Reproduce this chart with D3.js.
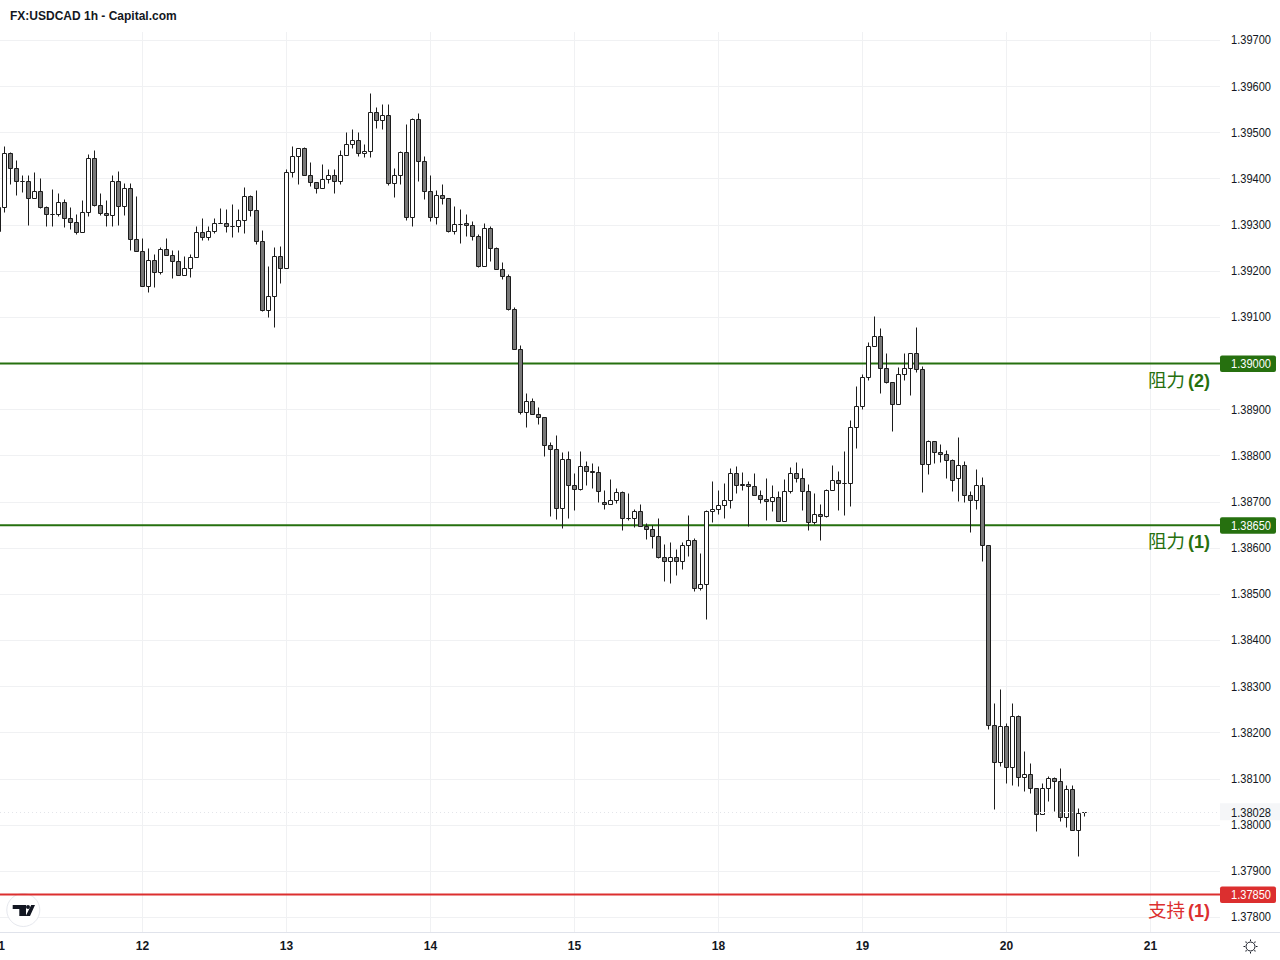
<!DOCTYPE html>
<html>
<head>
<meta charset="utf-8">
<script src="https://cdn.jsdelivr.net/npm/d3@7"></script>
<style>
  body { margin: 0; background: #fff; }
  text { font-family: "Liberation Sans", Arial, sans-serif; }
</style>
</head>
<body>
<div id="chart"></div>
<script>
// hourly candles
var opens = [
  1.39286,1.39338,1.39455,1.39423,1.39395,1.39395,1.39358,1.39373,1.39338,1.39323,
  1.39323,1.39349,1.39314,1.39306,1.39284,1.39327,1.39444,1.39343,1.39325,1.39321,
  1.39395,1.39340,1.39379,1.39269,1.39243,1.39167,1.39223,1.39197,1.39247,1.39234,
  1.39221,1.39191,1.39206,1.39230,1.39284,1.39273,1.39286,1.39303,1.39303,1.39297,
  1.39297,1.39310,1.39362,1.39331,1.39264,1.39114,1.39145,1.39232,1.39206,1.39414,
  1.39448,1.39466,1.39407,1.39392,1.39379,1.39399,1.39407,1.39394,1.39451,1.39474,
  1.39483,1.39455,1.39459,1.39544,1.39526,1.39537,1.39390,1.39407,1.39457,1.39317,
  1.39529,1.39438,1.39373,1.39317,1.39364,1.39358,1.39286,1.39302,1.39304,1.39299,
  1.39275,1.39210,1.39293,1.39249,1.39204,1.39189,1.39117,1.39031,1.38894,1.38918,
  1.38890,1.38883,1.38823,1.38814,1.38686,1.38792,1.38736,1.38727,1.38777,1.38766,
  1.38764,1.38699,1.38695,1.38703,1.38721,1.38664,1.38664,1.38679,1.38647,1.38640,
  1.38625,1.38580,1.38571,1.38580,1.38571,1.38606,1.38617,1.38513,1.38521,1.38679,
  1.38684,1.38693,1.38704,1.38762,1.38738,1.38738,1.38734,1.38714,1.38706,1.38701,
  1.38710,1.38658,1.38723,1.38762,1.38751,1.38723,1.38656,1.38673,1.38669,1.38725,
  1.38747,1.38740,1.38740,1.38862,1.38907,1.38970,1.39037,1.39059,1.38990,1.38959,
  1.38912,1.38977,1.38990,1.39022,1.38987,1.38782,1.38831,1.38808,1.38803,1.38790,
  1.38751,1.38779,1.38714,1.38704,1.38736,1.38606,1.38216,1.38135,1.38213,1.38125,
  1.38235,1.38103,1.38109,1.38079,1.38023,1.38079,1.38101,1.38094,1.38016,1.38077,
  1.37988,1.38028
];
var highs = [
  1.39350,1.39471,1.39458,1.39441,1.39408,1.39408,1.39413,1.39400,1.39340,1.39378,
  1.39369,1.39356,1.39338,1.39324,1.39354,1.39452,1.39462,1.39369,1.39354,1.39408,
  1.39417,1.39391,1.39391,1.39363,1.39270,1.39250,1.39237,1.39252,1.39270,1.39244,
  1.39246,1.39233,1.39237,1.39296,1.39314,1.39297,1.39314,1.39336,1.39334,1.39344,
  1.39334,1.39381,1.39364,1.39375,1.39288,1.39210,1.39251,1.39253,1.39420,1.39470,
  1.39466,1.39469,1.39435,1.39392,1.39431,1.39420,1.39420,1.39461,1.39500,1.39507,
  1.39500,1.39474,1.39585,1.39555,1.39561,1.39561,1.39422,1.39460,1.39517,1.39531,
  1.39542,1.39449,1.39408,1.39375,1.39388,1.39358,1.39340,1.39334,1.39323,1.39308,
  1.39280,1.39304,1.39297,1.39252,1.39219,1.39193,1.39122,1.39039,1.38935,1.38925,
  1.38905,1.38883,1.38830,1.38845,1.38807,1.38809,1.38762,1.38809,1.38788,1.38783,
  1.38777,1.38725,1.38749,1.38729,1.38723,1.38718,1.38684,1.38695,1.38653,1.38649,
  1.38664,1.38608,1.38612,1.38597,1.38612,1.38671,1.38621,1.38588,1.38682,1.38744,
  1.38725,1.38741,1.38773,1.38778,1.38764,1.38745,1.38762,1.38725,1.38751,1.38736,
  1.38723,1.38749,1.38775,1.38786,1.38773,1.38738,1.38719,1.38695,1.38727,1.38779,
  1.38766,1.38810,1.38877,1.38951,1.38977,1.39046,1.39103,1.39076,1.39022,1.38959,
  1.38992,1.39022,1.39022,1.39078,1.38994,1.38834,1.38831,1.38825,1.38812,1.38792,
  1.38840,1.38788,1.38723,1.38771,1.38753,1.38606,1.38263,1.38294,1.38220,1.38263,
  1.38237,1.38160,1.38133,1.38079,1.38090,1.38105,1.38103,1.38122,1.38086,1.38086,
  1.38036,1.38028
];
var lows = [
  1.39286,1.39327,1.39387,1.39364,1.39371,1.39300,1.39358,1.39335,1.39296,1.39296,
  1.39318,1.39294,1.39291,1.39279,1.39284,1.39318,1.39340,1.39320,1.39298,1.39296,
  1.39300,1.39320,1.39246,1.39243,1.39167,1.39153,1.39164,1.39192,1.39234,1.39184,
  1.39191,1.39191,1.39186,1.39230,1.39266,1.39266,1.39282,1.39303,1.39283,1.39274,
  1.39283,1.39281,1.39318,1.39258,1.39112,1.39099,1.39079,1.39173,1.39206,1.39403,
  1.39389,1.39407,1.39383,1.39368,1.39379,1.39391,1.39368,1.39387,1.39451,1.39466,
  1.39448,1.39446,1.39446,1.39510,1.39508,1.39385,1.39359,1.39387,1.39310,1.39296,
  1.39394,1.39355,1.39307,1.39301,1.39345,1.39283,1.39279,1.39260,1.39275,1.39266,
  1.39208,1.39210,1.39222,1.39204,1.39182,1.39114,1.39031,1.38889,1.38861,1.38890,
  1.38867,1.38799,1.38669,1.38663,1.38642,1.38664,1.38681,1.38725,1.38736,1.38729,
  1.38700,1.38685,1.38695,1.38698,1.38638,1.38660,1.38644,1.38647,1.38618,1.38599,
  1.38578,1.38527,1.38523,1.38540,1.38555,1.38583,1.38507,1.38508,1.38446,1.38655,
  1.38674,1.38664,1.38686,1.38718,1.38725,1.38647,1.38714,1.38696,1.38660,1.38679,
  1.38658,1.38658,1.38718,1.38742,1.38681,1.38638,1.38651,1.38616,1.38667,1.38725,
  1.38681,1.38670,1.38690,1.38816,1.38900,1.38964,1.39037,1.38935,1.38957,1.38852,
  1.38912,1.38963,1.38930,1.38980,1.38720,1.38759,1.38783,1.38785,1.38751,1.38722,
  1.38701,1.38699,1.38634,1.38683,1.38571,1.38208,1.38035,1.38128,1.38091,1.38085,
  1.38083,1.38072,1.38068,1.37987,1.38023,1.38052,1.38029,1.38007,1.37994,1.37988,
  1.37933,1.38018
];
var closes = [
  1.39338,1.39455,1.39423,1.39395,1.39395,1.39358,1.39373,1.39338,1.39323,1.39323,
  1.39349,1.39314,1.39306,1.39284,1.39327,1.39444,1.39343,1.39325,1.39321,1.39395,
  1.39340,1.39379,1.39269,1.39243,1.39167,1.39223,1.39197,1.39247,1.39234,1.39221,
  1.39191,1.39206,1.39230,1.39284,1.39273,1.39286,1.39303,1.39303,1.39297,1.39297,
  1.39310,1.39362,1.39331,1.39264,1.39114,1.39145,1.39232,1.39206,1.39414,1.39448,
  1.39466,1.39407,1.39392,1.39379,1.39399,1.39407,1.39394,1.39451,1.39474,1.39483,
  1.39455,1.39459,1.39544,1.39526,1.39537,1.39390,1.39407,1.39457,1.39317,1.39529,
  1.39438,1.39373,1.39317,1.39364,1.39358,1.39286,1.39301,1.39302,1.39299,1.39275,
  1.39210,1.39293,1.39249,1.39204,1.39189,1.39117,1.39031,1.38894,1.38918,1.38890,
  1.38883,1.38823,1.38814,1.38686,1.38792,1.38736,1.38727,1.38777,1.38766,1.38764,
  1.38723,1.38695,1.38703,1.38721,1.38664,1.38664,1.38679,1.38647,1.38640,1.38625,
  1.38580,1.38571,1.38580,1.38571,1.38606,1.38617,1.38513,1.38521,1.38679,1.38684,
  1.38692,1.38704,1.38762,1.38736,1.38737,1.38734,1.38714,1.38706,1.38701,1.38710,
  1.38658,1.38723,1.38762,1.38751,1.38723,1.38656,1.38673,1.38669,1.38725,1.38747,
  1.38740,1.38740,1.38862,1.38907,1.38970,1.39037,1.39059,1.38990,1.38959,1.38912,
  1.38977,1.38990,1.39022,1.38987,1.38782,1.38831,1.38808,1.38803,1.38790,1.38747,
  1.38779,1.38714,1.38704,1.38736,1.38606,1.38216,1.38135,1.38213,1.38125,1.38235,
  1.38103,1.38109,1.38079,1.38023,1.38079,1.38101,1.38094,1.38016,1.38077,1.37988,
  1.38026,1.38028
];

// day labels and the bar each one sits on (the weekend is skipped)
var dayLabels = ["11","12","13","14","15","18","19","20","21"];
var dayBars = [0,24,48,72,96,120,144,168,192];

var priceTicks = [1.378,1.379,1.38,1.381,1.382,1.383,1.384,1.385,1.386,1.387,1.388,1.389,1.39,1.391,1.392,1.393,1.394,1.395,1.396,1.397];

// horizontal levels
var levelPrices = [1.39, 1.3865, 1.3785];
var levelNames = ["阻力", "阻力", "支持"];
var levelNums = ["(2)", "(1)", "(1)"];
var levelColors = ["#26700f", "#26700f", "#dc2f2f"];

var lastPrice = 1.38028;

var width = 1280, height = 960, plotRight = 1220, plotTop = 32, plotBottom = 932;

var svg = d3.select("#chart")
  .append("svg")
    .attr("width", width)
    .attr("height", height)
    .style("display", "block");

svg.append("rect").attr("width", width).attr("height", height).attr("fill", "#fff");

var x = d3.scaleLinear().domain([0, 192]).range([-1.5, 1150.5]);
var y = d3.scaleLinear().domain([1.378, 1.397]).range([917.5, 40.5]);

var priceFormat = d3.format(".5f");

function py(p) { return Math.round(y(p) - 0.5) + 0.5; }

// grid
svg.append("g").selectAll("line")
  .data(priceTicks)
  .enter().append("line")
    .attr("x1", 0).attr("x2", plotRight)
    .attr("y1", py).attr("y2", py)
    .attr("stroke", "#f0f1f3");

svg.append("g").selectAll("line")
  .data(dayBars)
  .enter().append("line")
    .attr("x1", x).attr("x2", x)
    .attr("y1", plotTop).attr("y2", plotBottom)
    .attr("stroke", "#f0f1f3");

// logo sits over the grid but under the level lines
var logo = svg.append("g").attr("transform", "translate(23.3,910)");
logo.append("circle").attr("r", 16.5).attr("fill", "#fff").attr("stroke", "#e6e8ee");
logo.append("path")
    .attr("d", "M-10.6,-5H2.7V6H-4V-1H-10.6Z M11.7,-5L6.7,6H2.4L7.9,-5Z")
    .attr("fill", "#131722");
logo.append("circle").attr("cx", 4.7).attr("cy", -3).attr("r", 2).attr("fill", "#131722");

// level lines go under the candles
svg.append("g").selectAll("line")
  .data(levelPrices)
  .enter().append("line")
    .attr("x1", 0).attr("x2", plotRight)
    .attr("y1", y).attr("y2", y)
    .attr("stroke", function(d, i) { return levelColors[i]; })
    .attr("stroke-width", 2);

// candles
var candles = svg.append("g").selectAll("g")
  .data(opens)
  .enter().append("g");

candles.append("line")
    .attr("x1", function(d, i) { return x(i); })
    .attr("x2", function(d, i) { return x(i); })
    .attr("y1", function(d, i) { return py(highs[i]); })
    .attr("y2", function(d, i) { return py(lows[i]); })
    .attr("stroke", "#1c1c1c");

candles.append("path")
    .attr("d", function(d, i) {
      var top = py(Math.max(opens[i], closes[i]));
      var bottom = py(Math.min(opens[i], closes[i]));
      return "M" + (x(i) - 2) + "," + top + "h4V" + bottom + "h-4Z";
    })
    .attr("fill", function(d, i) { return closes[i] >= opens[i] ? "#fff" : "#787878"; })
    .attr("stroke", "#1c1c1c");

// last price dotted line
svg.append("line")
    .attr("x1", 0).attr("x2", plotRight)
    .attr("y1", py(lastPrice)).attr("y2", py(lastPrice))
    .attr("stroke", "#e3e5ea")
    .attr("stroke-dasharray", "1,3");

// last price label goes under the price axis
svg.append("rect")
    .attr("x", plotRight).attr("y", y(lastPrice) - 9)
    .attr("width", 60).attr("height", 17)
    .attr("fill", "#f5f6f8");
svg.append("text")
    .attr("x", 1271).attr("y", y(lastPrice) + 4.5)
    .attr("text-anchor", "end")
    .attr("textLength", 40)
    .attr("lengthAdjust", "spacingAndGlyphs")
    .style("font-size", "12px")
    .attr("fill", "#131722")
    .text(priceFormat(lastPrice));

// price axis
var yAxis = svg.append("g")
    .attr("transform", "translate(1271,0)")
    .call(d3.axisLeft(y).tickValues(priceTicks).tickSize(0).tickPadding(0).tickFormat(priceFormat));
yAxis.select(".domain").remove();
yAxis.selectAll("text")
    .attr("dy", "0.28em")
    .attr("textLength", 40)
    .attr("lengthAdjust", "spacingAndGlyphs")
    .style("font-size", "12px")
    .attr("fill", "#131722");

// time axis
svg.append("line")
    .attr("x1", 0).attr("x2", width)
    .attr("y1", plotBottom + 0.5).attr("y2", plotBottom + 0.5)
    .attr("stroke", "#e0e3eb");

svg.append("g").selectAll("text")
  .data(dayBars)
  .enter().append("text")
    .attr("x", x)
    .attr("y", 950)
    .attr("text-anchor", "middle")
    .style("font-size", "12px")
    .style("font-weight", "bold")
    .attr("fill", "#131722")
    .text(function(d, i) { return dayLabels[i]; });

// level boxes and captions
levelPrices.forEach(function(p, i) {
  svg.append("rect")
      .attr("x", plotRight).attr("y", y(p) - 8)
      .attr("width", 56).attr("height", 16.5)
      .attr("rx", 2)
      .attr("fill", levelColors[i]);
  svg.append("text")
      .attr("x", 1271).attr("y", y(p) + 4.5)
      .attr("text-anchor", "end")
      .attr("textLength", 40)
      .attr("lengthAdjust", "spacingAndGlyphs")
      .style("font-size", "12px")
      .attr("fill", "#fff")
      .text(priceFormat(p));
  var cap = svg.append("text")
      .attr("x", 1210).attr("y", y(p) + 23)
      .attr("text-anchor", "end")
      .attr("fill", levelColors[i]);
  cap.append("tspan")
      .style("font-family", "'Noto Sans CJK SC'")
      .style("font-size", "18.5px")
      .text(levelNames[i]);
  cap.append("tspan")
      .attr("dx", 3)
      .style("font-size", "18px")
      .style("font-weight", "bold")
      .text(levelNums[i]);
});

// title
svg.append("text")
    .attr("x", 10).attr("y", 19.5)
    .style("font-size", "12px")
    .style("font-weight", "bold")
    .attr("fill", "#131722")
    .text("FX:USDCAD 1h - Capital.com");

// settings sun
var sun = svg.append("g")
    .attr("transform", "translate(1250.5,946.5)")
    .attr("stroke", "#131722")
    .attr("fill", "none");
sun.append("circle").attr("r", 4.5);
sun.selectAll("line")
  .data(d3.range(8))
  .enter().append("line")
    .attr("y1", -5.5).attr("y2", -7)
    .attr("transform", function(d) { return "rotate(" + (d * 45) + ")"; });
</script>
</body>
</html>
